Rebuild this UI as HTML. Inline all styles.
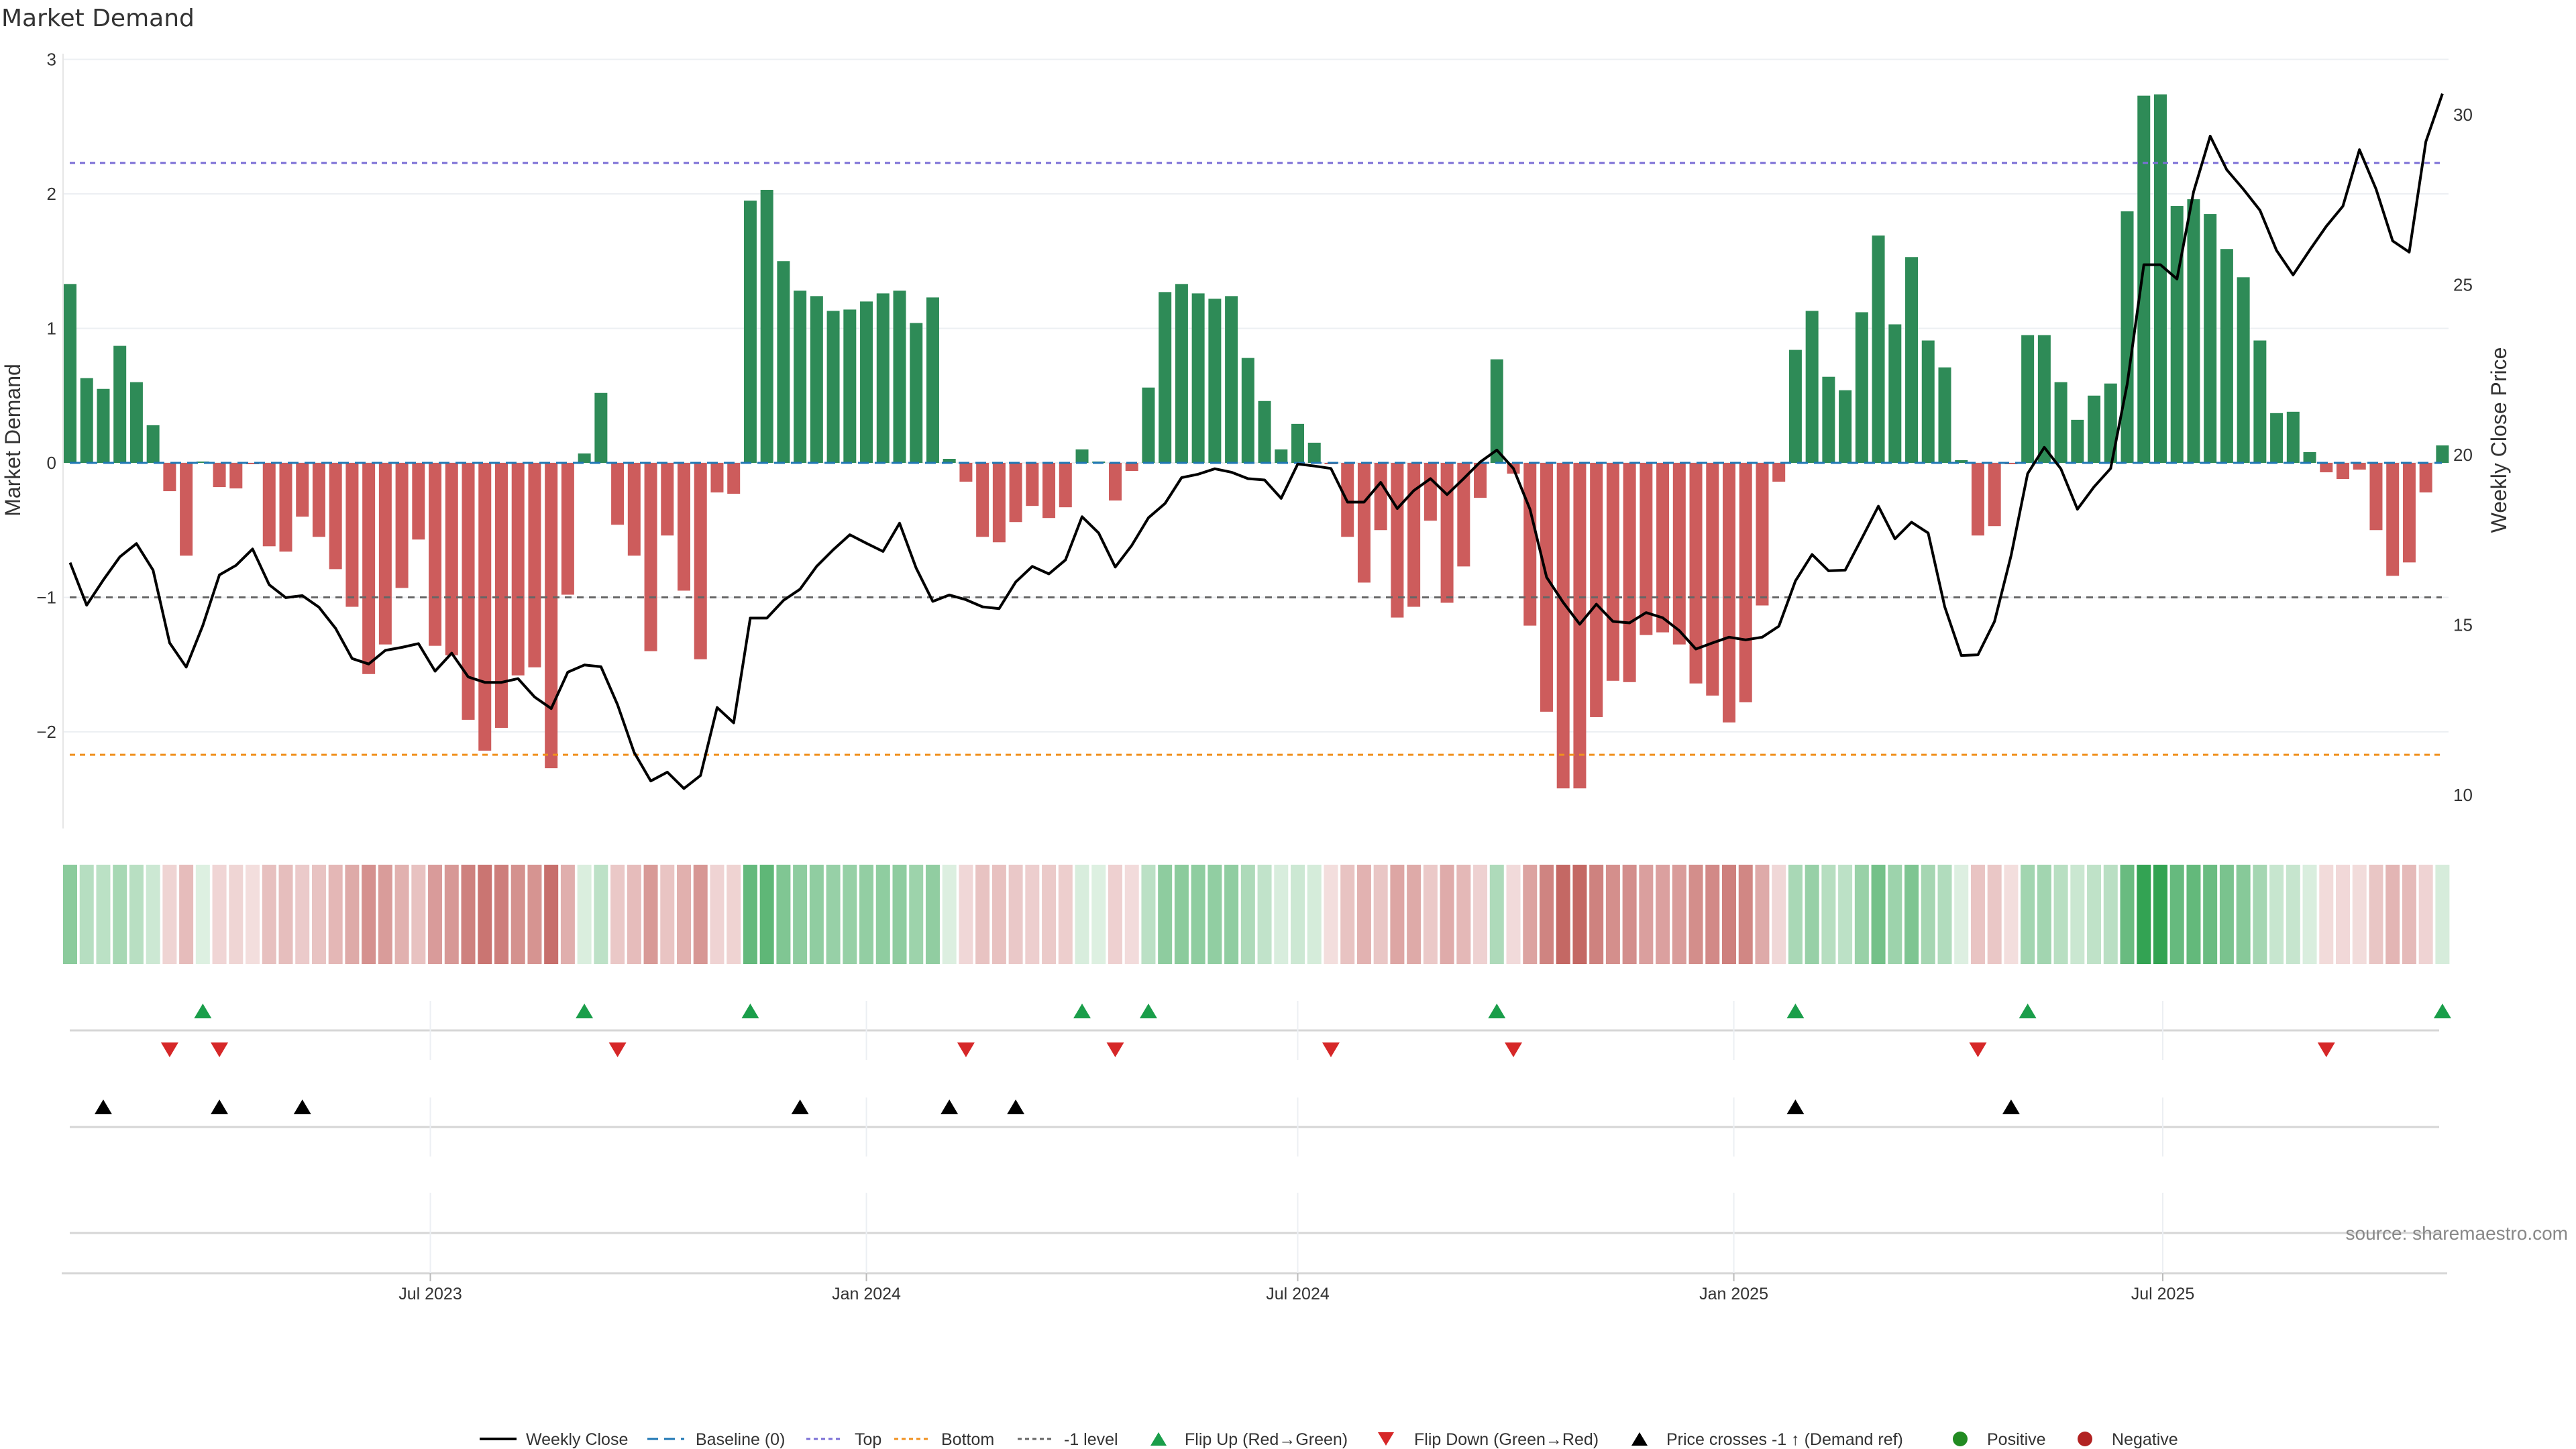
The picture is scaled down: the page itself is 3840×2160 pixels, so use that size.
<!DOCTYPE html>
<html><head><meta charset="utf-8"><style>
html,body{margin:0;padding:0;background:#fff;}
svg{display:block;font-family:"Liberation Sans","DejaVu Sans",sans-serif;}
</style></head><body>
<svg id="chart" width="3840" height="2160" viewBox="0 0 3840 2160" xmlns="http://www.w3.org/2000/svg">
<text x="2" y="39" font-size="36" fill="#333" style="font-family:'DejaVu Sans','Liberation Sans',sans-serif">Market Demand</text>
<g id="grid"></g>
<g id="heat"></g>
<g id="bars"></g>
<g id="refs"></g>
<g id="price"></g>
<g id="markers"></g>
<g id="axes"></g>
<text transform="translate(30,656) rotate(-90)" text-anchor="middle" font-size="32" fill="#333">Market Demand</text>
<text transform="translate(3736,656) rotate(-90)" text-anchor="middle" font-size="32" fill="#333">Weekly Close Price</text>
<text x="3828" y="1848" text-anchor="end" font-size="28" fill="#888">source: sharemaestro.com</text>
<g id="legend"></g>
</svg>
<script>
const demand = [1.33,0.63,0.55,0.87,0.60,0.28,-0.21,-0.69,0.01,-0.18,-0.19,-0.01,-0.62,-0.66,-0.40,-0.55,-0.79,-1.07,-1.57,-1.35,-0.93,-0.57,-1.36,-1.43,-1.91,-2.14,-1.97,-1.58,-1.52,-2.27,-0.98,0.07,0.52,-0.46,-0.69,-1.40,-0.54,-0.95,-1.46,-0.22,-0.23,1.95,2.03,1.50,1.28,1.24,1.13,1.14,1.20,1.26,1.28,1.04,1.23,0.03,-0.14,-0.55,-0.59,-0.44,-0.32,-0.41,-0.33,0.10,0.01,-0.28,-0.06,0.56,1.27,1.33,1.26,1.22,1.24,0.78,0.46,0.10,0.29,0.15,-0.01,-0.55,-0.89,-0.50,-1.15,-1.07,-0.43,-1.04,-0.77,-0.26,0.77,-0.08,-1.21,-1.85,-2.42,-2.42,-1.89,-1.62,-1.63,-1.28,-1.26,-1.35,-1.64,-1.73,-1.93,-1.78,-1.06,-0.14,0.84,1.13,0.64,0.54,1.12,1.69,1.03,1.53,0.91,0.71,0.02,-0.54,-0.47,-0.01,0.95,0.95,0.60,0.32,0.50,0.59,1.87,2.73,2.74,1.91,1.96,1.85,1.59,1.38,0.91,0.37,0.38,0.08,-0.07,-0.12,-0.05,-0.50,-0.84,-0.74,-0.22,0.13];
const closePrice = [16.83,15.58,16.32,17.0,17.39,16.61,14.47,13.76,14.98,16.47,16.75,17.23,16.18,15.80,15.86,15.52,14.90,14.01,13.85,14.25,14.34,14.45,13.64,14.17,13.47,13.31,13.31,13.42,12.88,12.54,13.61,13.82,13.77,12.65,11.25,10.41,10.67,10.19,10.57,12.57,12.12,15.20,15.20,15.72,16.05,16.72,17.21,17.65,17.40,17.16,17.99,16.67,15.69,15.88,15.74,15.53,15.48,16.26,16.72,16.50,16.91,18.18,17.70,16.70,17.34,18.15,18.57,19.33,19.43,19.59,19.49,19.30,19.26,18.72,19.73,19.67,19.60,18.61,18.61,19.19,18.42,18.95,19.30,18.83,19.30,19.79,20.14,19.60,18.40,16.40,15.66,15.02,15.61,15.10,15.06,15.36,15.21,14.83,14.29,14.47,14.64,14.56,14.64,14.96,16.29,17.07,16.59,16.61,17.54,18.49,17.53,18.02,17.70,15.53,14.10,14.12,15.10,17.04,19.45,20.22,19.59,18.40,19.06,19.60,22.08,25.59,25.59,25.17,27.73,29.37,28.38,27.81,27.19,26.01,25.29,26.02,26.72,27.31,28.97,27.81,26.29,25.96,29.21,30.62];
const flipUpIdx = [9,32,42,62,66,87,105,119,144];
const flipDownIdx = [7,10,34,55,64,77,88,116,137];
const priceCrossIdx = [3,10,15,45,54,58,105,118];
const yTicks = [3,2,1,0,-1,-2];
const y2Ticks = [30,25,20,15,10];
const xTickLabels = ["Jul 2023","Jan 2024","Jul 2024","Jan 2025","Jul 2025"];
const xTickDates = ["2023-07-01","2024-01-01","2024-07-01","2025-01-01","2025-07-01"];
const refLevels = [2.23,-2.17,-1];
const startDate = "2023-01-30";

const NS="http://www.w3.org/2000/svg";
function mk(parent,tag,attrs){const e=document.createElementNS(NS,tag);for(const k in attrs)e.setAttribute(k,attrs[k]);parent.appendChild(e);return e;}
const DAY=86400000, t0=Date.parse(startDate);
const PXDAY=24.73/7, X0=104.5;
function xDate(s){return X0+(Date.parse(s)-t0)/DAY*PXDAY;}
function xIdx(i){return X0+i*7*PXDAY;}
const Y0=690, YU=200.5;
function y(v){return Y0-v*YU;}
function y2(p){return 678-(p-20)*50.7;}
const L=94,R=3650;

const grid=document.getElementById('grid');
yTicks.forEach(t=>{const l=mk(grid,'line',{x1:L,x2:R,y1:y(t),y2:y(t),stroke:'#eceff3','stroke-width':2});
});
const axes=document.getElementById('axes');
let a=mk(axes,'line',{x1:L,x2:L,y1:80,y2:1235,stroke:'#e6e6e6','stroke-width':2});

yTicks.forEach(t=>{const tx=mk(axes,'text',{x:84,y:y(t)+9,'text-anchor':'end','font-size':26,fill:'#333'});
tx.textContent=t<0?'\u2212'+Math.abs(t):String(t);
});
y2Ticks.forEach(t=>{const tx=mk(axes,'text',{x:3657,y:y2(t)+9,'font-size':26,fill:'#333'});tx.textContent=t;
});

[[1536,104,3636],[1680,104,3636],[1838,104,3636],[1898,92,3648]].forEach(([yy,x1,x2],k)=>{
const l=mk(grid,'line',{x1:x1,x2:x2,y1:yy,y2:yy,stroke:'#d6d6d6','stroke-width':3});
});
xTickDates.forEach((d,k)=>{const xx=xDate(d);
[[1492,1580],[1636,1724],[1778,1898]].forEach(s=>{const l=mk(grid,'line',{x1:xx,x2:xx,y1:s[0],y2:s[1],stroke:'#eceff3','stroke-width':2});
});
const tk=mk(axes,'line',{x1:xx,x2:xx,y1:1898,y2:1910,stroke:'#bbb','stroke-width':2});

const tx=mk(axes,'text',{x:xx,y:1937,'text-anchor':'middle','font-size':25,fill:'#333'});tx.textContent=xTickLabels[k];
});

const heat=document.getElementById('heat');
function mix(a,b,t){return 'rgb('+a.map((v,i)=>Math.round(v+(b[i]-v)*t)).join(',')+')';}
demand.forEach((v,i)=>{const t=Math.min(1,Math.abs(v)/2.74);
const c=v>=0?mix([222,240,226],[50,163,82],t):mix([243,222,222],[190,88,84],t);
const r=mk(heat,'rect',{x:xIdx(i)-10.5,y:1289,width:21,height:148,fill:c});
});

const bars=document.getElementById('bars');
demand.forEach((v,i)=>{const r=mk(bars,'rect',{x:xIdx(i)-9.5,y:Math.min(y(v),Y0),width:19,height:Math.max(1,Math.abs(y(v)-Y0)),fill:v>=0?'#2e8b57':'#cd5c5c'});
});

const refs=document.getElementById('refs');
let b=mk(refs,'line',{x1:104,x2:3640,y1:Y0,y2:Y0,stroke:'#1f77b4','stroke-width':3,'stroke-dasharray':'16 9'});

const refStyles=[['#7b6fd6','8 7','top-line'],['#f0901e','8 7','bottom-line'],['#666','10 8','minus-one-level']];
refLevels.forEach((lv,k)=>{const l=mk(refs,'line',{x1:104,x2:3640,y1:y(lv),y2:y(lv),stroke:refStyles[k][0],'stroke-width':3,'stroke-dasharray':refStyles[k][1]});
});

const pg=document.getElementById('price');
const pl=mk(pg,'polyline',{points:closePrice.map((p,i)=>xIdx(i).toFixed(1)+','+y2(p).toFixed(1)).join(' '),fill:'none',stroke:'#000','stroke-width':4,'stroke-linejoin':'round'});


const mg=document.getElementById('markers');
function tri(cx,cy,up,col,name){const h=22,w=13;
const pts=up?[[cx,cy-h/2],[cx+w,cy+h/2],[cx-w,cy+h/2]]:[[cx,cy+h/2],[cx+w,cy-h/2],[cx-w,cy-h/2]];
const p=mk(mg,'polygon',{points:pts.map(q=>q.join(',')).join(' '),fill:col});
}
flipUpIdx.forEach(i=>tri(xIdx(i-1),1507,true,'#1a9e4a','flip-up-marker'));
flipDownIdx.forEach(i=>tri(xIdx(i-1),1565,false,'#d62728','flip-down-marker'));
priceCrossIdx.forEach(i=>tri(xIdx(i-1),1650,true,'#000','price-cross-marker'));

const lg=document.getElementById('legend');const LY=2145;
function lt(x,s){const t=mk(lg,'text',{x:x,y:LY+9,'font-size':25,fill:'#333'});t.textContent=s;
}
function ll(x,col,dash,w){const l=mk(lg,'line',{x1:x,x2:x+55,y1:LY,y2:LY,stroke:col,'stroke-width':w,'stroke-dasharray':dash});
}
ll(715,'#000','none',4);lt(784,'Weekly Close');
ll(965,'#1f77b4','16 9',3);lt(1037,'Baseline (0)');
ll(1202,'#7b6fd6','6 5',3);lt(1274,'Top');
ll(1333,'#f0901e','6 5',3);lt(1403,'Bottom');
ll(1517,'#666','6 5',3);lt(1586,'-1 level');
function lm(cx,up,col){const h=20,w=12;const pts=up?[[cx,LY-h/2],[cx+w,LY+h/2],[cx-w,LY+h/2]]:[[cx,LY+h/2],[cx+w,LY-h/2],[cx-w,LY-h/2]];
const p=mk(lg,'polygon',{points:pts.map(q=>q.join(',')).join(' '),fill:col});}
lm(1727,true,'#1a9e4a');lt(1766,'Flip Up (Red\u2192Green)');
lm(2066,false,'#d62728');lt(2108,'Flip Down (Green\u2192Red)');
lm(2444,true,'#000');lt(2484,'Price crosses -1 \u2191 (Demand ref)');
function lc(cx,col){const c=mk(lg,'circle',{cx:cx,cy:LY,r:11,fill:col});}
lc(2922,'#228b22');lt(2962,'Positive');
lc(3108,'#b22222');lt(3148,'Negative');
</script>
</body></html>
